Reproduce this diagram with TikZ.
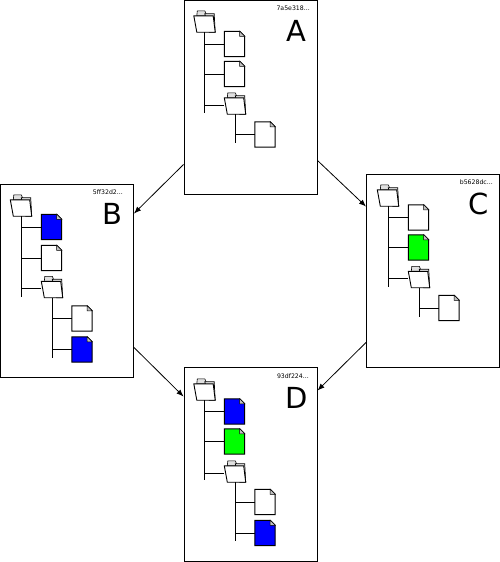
\documentclass[tikz,border=0pt]{standalone}
\usepackage{fontspec}
\setmainfont{DejaVu Sans}
\usetikzlibrary{arrows.meta,positioning}

\begin{document}
\begin{tikzpicture}[
    x=1pt, y=-1pt,
    >={Latex[length=7pt,width=5.5pt]},
    commit/.style={draw, line width=1pt, minimum width=133pt, inner sep=0pt, fill=white},
    hashlabel/.style={anchor=east, inner sep=0pt, font=\fontsize{6.2}{7}\selectfont},
    letter/.style={inner sep=0pt, font=\fontsize{29}{32}\selectfont},
    tree/.style={line width=1pt},
    arrow/.style={->, line width=0.8pt},
    filebox/.style={minimum width=20pt, minimum height=25pt, inner sep=0pt,
        append after command={\pgfextra{
            \draw[line width=1pt, fill=#1, line join=miter]
                (\tikzlastnode.north west) -- ([xshift=-5pt]\tikzlastnode.north east)
                -- ([yshift=-5pt]\tikzlastnode.north east) -- (\tikzlastnode.south east)
                -- (\tikzlastnode.south west) -- cycle;
            \draw[line width=0.5pt, fill=black!25]
                ([xshift=-5pt]\tikzlastnode.north east) -- ([xshift=-5pt,yshift=-5pt]\tikzlastnode.north east)
                -- ([yshift=-5pt]\tikzlastnode.north east) -- cycle;
        }}},
    folderbox/.style={minimum width=21pt, minimum height=22pt, inner sep=0pt,
        append after command={\pgfextra{
            \draw[line width=0.6pt, fill=black!12]
                ([xshift=3pt,yshift=-6pt]\tikzlastnode.north west) -- ([xshift=3.5pt,yshift=-1pt]\tikzlastnode.north west)
                -- ([xshift=11pt,yshift=-1pt]\tikzlastnode.north west) -- ([xshift=13pt,yshift=-6pt]\tikzlastnode.north west)
                -- cycle;
            \draw[line width=0.7pt, fill=black!8]
                ([xshift=11pt,yshift=-4pt]\tikzlastnode.north west)
                -- ([xshift=-1pt,yshift=-4pt]\tikzlastnode.north east) -- ([xshift=0pt,yshift=0pt]\tikzlastnode.south east)
                -- ([xshift=-6pt]\tikzlastnode.south east) -- cycle;
            \draw[line width=0.9pt, fill=white]
                ([yshift=-6pt]\tikzlastnode.north west) -- ([xshift=-2pt,yshift=-6pt]\tikzlastnode.north east)
                -- (\tikzlastnode.south east) -- ([xshift=3pt]\tikzlastnode.south west) -- cycle;
        }}}
]
\useasboundingbox (0,0) rectangle (500,562);

% ===================== COMMIT A =====================
\node[commit, minimum height=194pt] (boxa) at (250.5,97) {};
\node[hashlabel] (hasha) at (310,8) {7a5e318...};
\node[letter] (lettera) at (296,31) {A};
\node[folderbox] (roota) at (204.5,21) {};
\node[filebox=white] (filea) at (234.5,44) {};
\node[filebox=white] (fileb) at (234.5,74) {};
\node[folderbox] (dira) at (235,103) {};
\node[filebox=white] (filec) at (265,134.5) {};
\coordinate (rowa) at ([yshift=-2pt]dira.west);
\coordinate (enda) at (204.5,113);
\coordinate (endb) at (235,143);

% ===================== COMMIT B =====================
\node[commit, minimum height=193pt] (boxb) at (67,280.5) {};
\node[hashlabel] (hashb) at (123,192) {5ff32d2...};
\node[letter] (letterb) at (112,214) {B};
\node[folderbox] (rootb) at (21,205) {};
\node[filebox=blue] (filed) at (51.5,227) {};
\node[filebox=white] (filee) at (51.5,258) {};
\node[folderbox] (dirb) at (52,286.5) {};
\node[filebox=white] (filef) at (82,318.5) {};
\node[filebox=blue] (fileg) at (82,349.5) {};
\coordinate (rowb) at ([yshift=-2pt]dirb.west);
\coordinate (endc) at (21,297);
\coordinate (endd) at (52,358);

% ===================== COMMIT C =====================
\node[commit, minimum height=193pt] (boxc) at (433,270.5) {};
\node[hashlabel] (hashc) at (493,182) {b5628dc...};
\node[letter] (letterc) at (479,204) {C};
\node[folderbox] (rootc) at (388,195) {};
\node[filebox=white] (fileh) at (418.5,217.5) {};
\node[filebox=green] (filei) at (418.5,247.5) {};
\node[folderbox] (dirc) at (419,276.5) {};
\node[filebox=white] (filej) at (449,308) {};
\coordinate (rowc) at ([yshift=-2pt]dirc.west);
\coordinate (ende) at (388,287);
\coordinate (endf) at (419,317);

% ===================== COMMIT D =====================
\node[commit, minimum height=194pt] (boxd) at (250.5,464) {};
\node[hashlabel] (hashd) at (309,376) {93df224...};
\node[letter] (letterd) at (297,398) {D};
\node[folderbox] (rootd) at (204.5,389) {};
\node[filebox=blue] (filek) at (234.5,411.5) {};
\node[filebox=green] (filel) at (234.5,441.5) {};
\node[folderbox] (dird) at (235,471) {};
\node[filebox=white] (filem) at (265,502) {};
\node[filebox=blue] (filen) at (265,533) {};
\coordinate (rowd) at ([yshift=-2pt]dird.west);
\coordinate (endg) at (204.5,480);
\coordinate (endh) at (235,541);

% ===================== TREE LINES =====================
\draw[tree] (roota.south) -- (enda);
\draw[tree] (roota.south |- filea.west) -- (filea.west);
\draw[tree] (roota.south |- fileb.west) -- (fileb.west);
\draw[tree] (roota.south |- rowa) -- (rowa);
\draw[tree] (dira.south) -- (endb);
\draw[tree] (dira.south |- filec.west) -- (filec.west);

\draw[tree] (rootb.south) -- (endc);
\draw[tree] (rootb.south |- filed.west) -- (filed.west);
\draw[tree] (rootb.south |- filee.west) -- (filee.west);
\draw[tree] (rootb.south |- rowb) -- (rowb);
\draw[tree] (dirb.south) -- (endd);
\draw[tree] (dirb.south |- filef.west) -- (filef.west);
\draw[tree] (dirb.south |- fileg.west) -- (fileg.west);

\draw[tree] (rootc.south) -- (ende);
\draw[tree] (rootc.south |- fileh.west) -- (fileh.west);
\draw[tree] (rootc.south |- filei.west) -- (filei.west);
\draw[tree] (rootc.south |- rowc) -- (rowc);
\draw[tree] (dirc.south) -- (endf);
\draw[tree] (dirc.south |- filej.west) -- (filej.west);

\draw[tree] (rootd.south) -- (endg);
\draw[tree] (rootd.south |- filek.west) -- (filek.west);
\draw[tree] (rootd.south |- filel.west) -- (filel.west);
\draw[tree] (rootd.south |- rowd) -- (rowd);
\draw[tree] (dird.south) -- (endh);
\draw[tree] (dird.south |- filem.west) -- (filem.west);
\draw[tree] (dird.south |- filen.west) -- (filen.west);

% ===================== ARROWS =====================
\draw[arrow] ([yshift=30pt]boxa.south west) -- ([yshift=-30pt]boxb.north east);
\draw[arrow] ([yshift=34pt]boxa.south east) -- ([yshift=-33pt]boxc.north west);
\draw[arrow] ([yshift=30pt]boxb.south east) -- ([yshift=-30pt]boxd.north west);
\draw[arrow] ([yshift=25pt]boxc.south west) -- ([yshift=-24pt]boxd.north east);

\end{tikzpicture}
\end{document}
